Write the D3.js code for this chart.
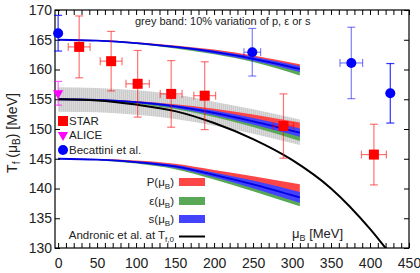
<!DOCTYPE html>
<html>
<head>
<meta charset="utf-8">
<script src="https://cdn.jsdelivr.net/npm/d3@7/dist/d3.min.js"></script>
<style>
  body { margin: 0; background: #fff; }
  svg { font-family: "Liberation Sans", Arial, sans-serif; }
</style>
</head>
<body>
<div id="chart"></div>
<script>
// mu_B grid (MeV) for the model curves
var muGrid = [0, 50, 100, 150, 200, 250, 310];

// T_f,0 = 165 MeV
var upP = [165, 164.9, 164.5, 163.9, 163.1, 162.0, 160.4];
var upE = [165, 164.85, 164.4, 163.7, 162.8, 161.6, 159.5];
var upS = [165, 164.85, 164.45, 163.8, 162.95, 161.8, 160.1];
var upW = [0, 0.05, 0.1, 0.15, 0.25, 0.35, 0.5];

// T_f,0 = 155 MeV
var midP = [155, 154.9, 154.55, 153.9, 153.0, 151.9, 150.4];
var midE = [155, 154.85, 154.4, 153.6, 152.4, 150.9, 148.7];
var midS = [155, 154.9, 154.5, 153.8, 152.7, 151.3, 149.4];
var midW = [0, 0.05, 0.15, 0.25, 0.4, 0.55, 0.7];

// T_f,0 = 145 MeV
var lowP = [145, 144.9, 144.55, 143.9, 142.7, 141.4, 139.8];
var lowE = [145, 144.8, 144.35, 143.5, 141.9, 140.2, 137.9];
var lowS = [145, 144.85, 144.45, 143.7, 142.3, 140.7, 138.5];
var lowW = [0, 0.05, 0.15, 0.25, 0.4, 0.65, 0.9];

// grey band: 10% variation
var greyLo = [152.9, 152.8, 152.4, 151.7, 150.6, 149.2, 147.3];
var greyHi = [157.0, 156.9, 156.5, 155.8, 154.6, 153.3, 151.6];

// Andronic et al.
var andMu = [0, 50, 100, 150, 200, 250, 300, 350, 400, 420, 430];
var andT = [155.0, 154.8, 154.1, 153.0, 151.0, 148.3, 144.8, 140.0, 133.2, 130.0, 128.4];

// STAR
var starMu = [27, 68, 102, 145, 188, 289, 405];
var starMuErr = [14, 14, 15, 14, 14, 13, 16];
var starT = [163.8, 161.4, 157.6, 155.9, 155.6, 150.5, 145.7];
var starTErr = [5.2, 5.0, 5.6, 5.6, 5.7, 5.4, 5.1];

// ALICE
var aliceMu = [0];
var aliceT = [156.0];
var aliceTErr = [2.0];

// Becattini et al.
var becMu = [0, 249, 376, 426];
var becMuErr = [0, 10.7, 14.5, 0];
var becT = [166.1, 162.9, 161.1, 156.0];
var becTErr = [3.0, 4.0, 6.0, 5.0];

var xTicks = d3.range(0, 451, 10);
var yTicks = [130, 135, 140, 145, 150, 155, 160, 165, 170];

var W = 420, H = 273;
var pL = 55, pR = 409, pT = 10, pB = 248;

var svg = d3.select("#chart").append("svg")
    .attr("width", W)
    .attr("height", H);

var x = d3.scaleLinear().domain([-4, 450]).range([pL, pR]);
var y = d3.scaleLinear().domain([130, 170]).range([pB, pT]);

var defs = svg.append("defs");
defs.append("clipPath").attr("id", "clip")
    .append("rect")
    .attr("x", pL).attr("y", pT)
    .attr("width", pR - pL).attr("height", pB - pT);

var pat = defs.append("pattern")
    .attr("id", "stripes")
    .attr("width", 2).attr("height", 4)
    .attr("patternUnits", "userSpaceOnUse");
pat.append("rect").attr("width", 2).attr("height", 4).attr("fill", "#cbcbcb");
pat.append("rect").attr("width", 1).attr("height", 4).attr("fill", "#dadada");

var plot = svg.append("g").attr("clip-path", "url(#clip)");

function band(center, half) {
  return muGrid.map(function(m, i) {
    return {mu: m, lo: center[i] - half[i], hi: center[i] + half[i], c: center[i]};
  });
}

var area = d3.area()
    .x(function(d) { return x(d.mu); })
    .y0(function(d) { return y(d.lo); })
    .y1(function(d) { return y(d.hi); })
    .curve(d3.curveMonotoneX);

var line = d3.line()
    .x(function(d) { return x(d.mu); })
    .y(function(d) { return y(d.c); })
    .curve(d3.curveMonotoneX);

// grey band
var greyData = muGrid.map(function(m, i) { return {mu: m, lo: greyLo[i], hi: greyHi[i]}; });
plot.append("path")
    .datum(greyData)
    .attr("fill", "url(#stripes)")
    .attr("d", area);

var red = "#ff4646", green = "#58a858", blue = "#4242ff";

var groups = [
  [upP, upE, upS, upW],
  [midP, midE, midS, midW],
  [lowP, lowE, lowS, lowW]
];

groups.forEach(function(g) {
  plot.append("path").datum(band(g[0], g[3])).attr("fill", red).attr("d", area);
  plot.append("path").datum(band(g[1], g[3])).attr("fill", green).attr("d", area);
  plot.append("path").datum(band(g[2], g[3])).attr("fill", blue).attr("d", area);
  plot.append("path").datum(band(g[2], g[3]))
      .attr("fill", "none")
      .attr("stroke", "#0000e0")
      .attr("stroke-width", 1.8)
      .attr("d", line);
});

// Andronic line
var andData = andMu.map(function(m, i) { return {mu: m, c: andT[i]}; });
plot.append("path")
    .datum(andData)
    .attr("fill", "none")
    .attr("stroke", "#000")
    .attr("stroke-width", 2)
    .attr("d", line);

// axes
var axB = d3.axisBottom(x).tickValues(xTicks).tickSizeInner(-5).tickSizeOuter(0).tickPadding(10)
    .tickFormat(function(d) { return d % 50 === 0 ? d : ""; });
var axT = d3.axisTop(x).tickValues(xTicks).tickSizeInner(-5).tickSizeOuter(0).tickFormat("");
var axL = d3.axisLeft(y).tickValues(yTicks).tickSizeInner(-5).tickSizeOuter(0).tickPadding(3);
var axR = d3.axisRight(y).tickValues(yTicks).tickSizeInner(-5).tickSizeOuter(0).tickFormat("");

function styleAxis(g) {
  g.select(".domain").remove();
  g.selectAll(".tick line").attr("stroke", "#000").attr("stroke-width", 1);
  g.selectAll(".tick text").attr("font-size", 14).attr("fill", "#222")
      .attr("font-family", "Liberation Sans, Arial, sans-serif");
}

svg.append("g").attr("transform", "translate(0," + pB + ")").call(axB).call(styleAxis);
svg.append("g").attr("transform", "translate(0," + pT + ")").call(axT).call(styleAxis);
svg.append("g").attr("transform", "translate(" + pL + ",0)").call(axL).call(styleAxis);
svg.append("g").attr("transform", "translate(" + pR + ",0)").call(axR).call(styleAxis);

svg.append("rect")
    .attr("x", pL).attr("y", pT)
    .attr("width", pR - pL).attr("height", pB - pT)
    .attr("fill", "none")
    .attr("stroke", "#000")
    .attr("stroke-width", 1.2);

// error bars helper
function errBars(sel, data, color, opacity) {
  var g = sel.append("g")
      .attr("stroke", color)
      .attr("stroke-opacity", opacity)
      .attr("stroke-width", 1.2);
  data.forEach(function(d) {
    var cx = x(d.mu), cy = y(d.t);
    g.append("line").attr("x1", cx).attr("x2", cx).attr("y1", y(d.t + d.te)).attr("y2", y(d.t - d.te));
    g.append("line").attr("x1", cx - 4).attr("x2", cx + 4).attr("y1", y(d.t + d.te)).attr("y2", y(d.t + d.te));
    g.append("line").attr("x1", cx - 4).attr("x2", cx + 4).attr("y1", y(d.t - d.te)).attr("y2", y(d.t - d.te));
    if (d.me > 0) {
      g.append("line").attr("x1", x(d.mu - d.me)).attr("x2", x(d.mu + d.me)).attr("y1", cy).attr("y2", cy);
      g.append("line").attr("x1", x(d.mu - d.me)).attr("x2", x(d.mu - d.me)).attr("y1", cy - 4).attr("y2", cy + 4);
      g.append("line").attr("x1", x(d.mu + d.me)).attr("x2", x(d.mu + d.me)).attr("y1", cy - 4).attr("y2", cy + 4);
    }
  });
}

var starData = starMu.map(function(m, i) {
  return {mu: m, me: starMuErr[i], t: starT[i], te: starTErr[i]};
});
var aliceData = aliceMu.map(function(m, i) {
  return {mu: m, me: 0, t: aliceT[i], te: aliceTErr[i]};
});
var becData = becMu.map(function(m, i) {
  return {mu: m, me: becMuErr[i], t: becT[i], te: becTErr[i]};
});

errBars(svg, starData, "#ff0000", 0.55);
errBars(svg, aliceData, "#ff00ff", 0.6);
becData.forEach(function(d) {
  errBars(svg, [d], "#0000ff", d.me > 0 ? 0.5 : 0.8);
});

svg.selectAll("rect.star")
    .data(starData)
    .enter()
    .append("rect")
    .attr("class", "star")
    .attr("fill", "#ff0000")
    .attr("width", 10).attr("height", 10)
    .attr("x", function(d) { return x(d.mu) - 5; })
    .attr("y", function(d) { return y(d.t) - 5; });

var tri = d3.symbol().type(d3.symbolTriangle).size(45);
svg.selectAll("path.alice")
    .data(aliceData)
    .enter()
    .append("path")
    .attr("class", "alice")
    .attr("fill", "#ff00ff")
    .attr("d", tri)
    .attr("transform", function(d) { return "translate(" + x(d.mu) + "," + y(d.t) + ") rotate(180)"; });

svg.selectAll("circle.bec")
    .data(becData)
    .enter()
    .append("circle")
    .attr("class", "bec")
    .attr("fill", "#0000ff")
    .attr("r", 5)
    .attr("cx", function(d) { return x(d.mu); })
    .attr("cy", function(d) { return y(d.t); });

// legend, left
var leg = svg.append("g").attr("font-size", 11.5).attr("fill", "#222");
leg.append("rect").attr("x", 58).attr("y", 116).attr("width", 10).attr("height", 10).attr("fill", "#ff0000");
leg.append("text").attr("x", 69).attr("y", 125).text("STAR");
leg.append("path").attr("d", tri).attr("fill", "#ff00ff")
    .attr("transform", "translate(63,135) rotate(180)");
leg.append("text").attr("x", 69).attr("y", 139).text("ALICE");
leg.append("circle").attr("cx", 63).attr("cy", 150).attr("r", 5).attr("fill", "#0000ff");
leg.append("text").attr("x", 69).attr("y", 154).text("Becattini et al.");

// legend, models
function subLabel(g, yy, main, sub, tail) {
  var t = g.append("text").attr("x", 174).attr("y", yy).attr("text-anchor", "end");
  t.append("tspan").text(main);
  t.append("tspan").attr("font-size", 8).attr("dy", 3).text(sub);
  if (tail) t.append("tspan").attr("dy", -3).text(tail);
  return t;
}
var leg2 = svg.append("g").attr("font-size", 11.5).attr("fill", "#222");
subLabel(leg2, 186, "P(\u03bc", "B", ")");
subLabel(leg2, 205, "\u03b5(\u03bc", "B", ")");
subLabel(leg2, 223, "s(\u03bc", "B", ")");
var an = leg2.append("text").attr("x", 174).attr("y", 239).attr("text-anchor", "end");
an.append("tspan").text("Andronic et al. at T");
an.append("tspan").attr("font-size", 8).attr("dy", 3).text("f,0");

leg2.append("rect").attr("x", 179).attr("y", 178).attr("width", 26).attr("height", 8).attr("fill", red);
leg2.append("rect").attr("x", 179).attr("y", 197).attr("width", 26).attr("height", 8).attr("fill", green);
leg2.append("rect").attr("x", 179).attr("y", 215).attr("width", 26).attr("height", 8).attr("fill", blue);
leg2.append("line").attr("x1", 179).attr("x2", 205).attr("y1", 236.5).attr("y2", 236.5)
    .attr("stroke", "#000").attr("stroke-width", 2);

// annotations
svg.append("text")
    .attr("x", 135).attr("y", 25)
    .attr("font-size", 11).attr("fill", "#222")
    .text("grey band: 10% variation of p, \u03b5 or s");

var xl = svg.append("text").attr("x", 292).attr("y", 238).attr("font-size", 13).attr("fill", "#222");
xl.append("tspan").text("\u03bc");
xl.append("tspan").attr("font-size", 9).attr("dy", 3).text("B");
xl.append("tspan").attr("dy", -3).text(" [MeV]");

var yl = svg.append("text")
    .attr("transform", "translate(17,133) rotate(-90)")
    .attr("text-anchor", "middle")
    .attr("font-size", 14).attr("fill", "#222");
yl.append("tspan").text("T");
yl.append("tspan").attr("font-size", 10).attr("dy", 3).text("f");
yl.append("tspan").attr("dy", -3).text(" (\u03bc");
yl.append("tspan").attr("font-size", 10).attr("dy", 3).text("B");
yl.append("tspan").attr("dy", -3).text(") [MeV]");
</script>
</body>
</html>
